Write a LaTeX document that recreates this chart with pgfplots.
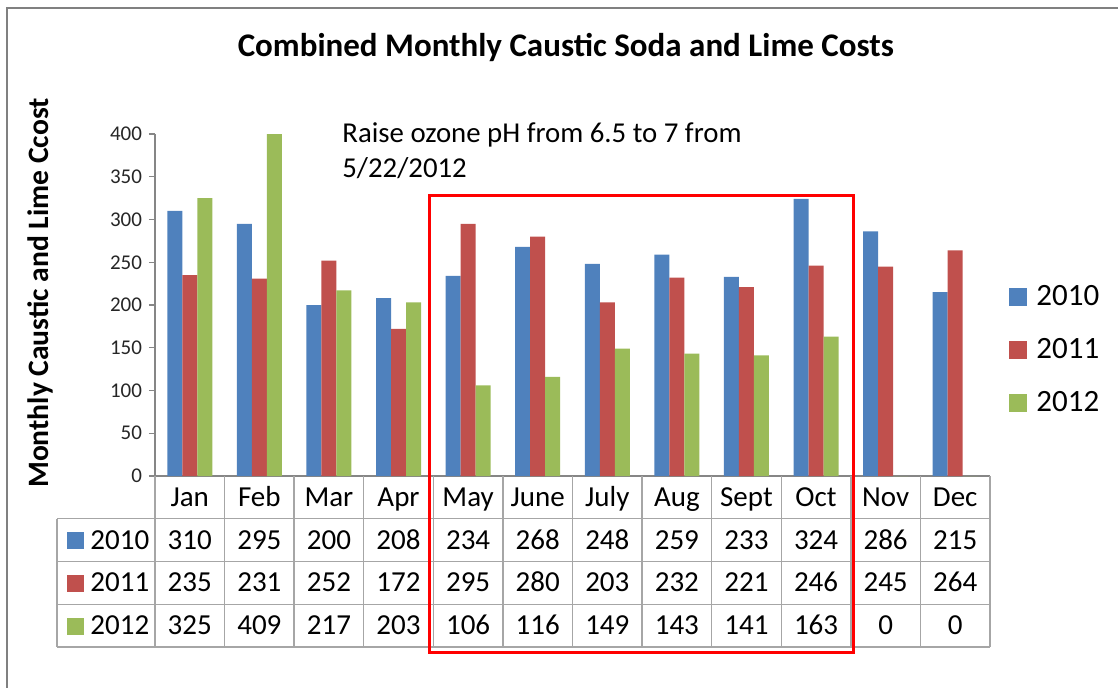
\documentclass[border=0pt]{standalone}
\usepackage{fontspec}
\setmainfont{Carlito}
\usepackage{pgfplots}
\usepackage{pgfplotstable}
\pgfplotsset{compat=1.18}

\definecolor{c10}{RGB}{79,129,189}
\definecolor{c11}{RGB}{192,80,77}
\definecolor{c12}{RGB}{155,187,89}
\definecolor{gridgrey}{RGB}{166,166,166}
\definecolor{axgrey}{RGB}{134,134,134}

% monthly costs, one column per year
\pgfplotstableread{
idx month y2010 y2011 y2012
0  Jan   310 235 325
1  Feb   295 231 409
2  Mar   200 252 217
3  Apr   208 172 203
4  May   234 295 106
5  June  268 280 116
6  July  248 203 149
7  Aug   259 232 143
8  Sept  233 221 141
9  Oct   324 246 163
10 Nov   286 245 0
11 Dec   215 264 0
}\costs

\newcommand{\tabfont}{\fontsize{14.5}{17}\selectfont}
\pgfplotsset{tabrow/.style={forget plot, draw=none, mark=none,
    point meta=explicit symbolic, nodes near coords,
    nodes near coords align={anchor=base},
    every node near coord/.append style={font=\tabfont, text=black,
                                         inner sep=0pt, anchor=base}}}

\begin{document}
\begin{tikzpicture}
% 1px of the reference = 0.5pt
\useasboundingbox (-77.5pt,-105.5pt) rectangle (481.5pt,238pt);
\draw[gray, line width=1.2pt] (-74pt,-130pt) -- (-74pt,234pt) -- (520pt,234pt);

\begin{axis}[
    at={(0,0)}, anchor=south west,
    width=417.5pt, height=171pt, scale only axis,
    xmin=-0.5, xmax=11.5, ymin=0, ymax=400,
    clip=false,
    axis x line=bottom, axis y line=left,
    axis line style={draw=axgrey, line width=0.6pt, -},
    xtick=\empty,
    ytick={0,50,...,400},
    tick align=outside, major tick length=3pt,
    ytick style={draw=axgrey, line width=0.6pt},
    yticklabel style={font=\fontsize{10.5}{12}\selectfont, text=black!85},
    /pgf/number format/assume math mode=true,
    title={Combined Monthly Caustic Soda and Lime Costs},
    title style={at={(0.492,1.219)}, anchor=center,
                 font=\bfseries\fontsize{16.5}{19}\selectfont},
    ylabel={Monthly Caustic and Lime Ccost},
    ylabel style={at={(-0.1377,0.535)}, anchor=center,
                  font=\bfseries\fontsize{14.8}{17}\selectfont},
    legend image code/.code={\draw[#1, draw=none] (0pt,-4.5pt) rectangle (9pt,4.5pt);},
    legend style={at={(1.0228,0.368)}, anchor=west, draw=none, fill=none,
                  font=\fontsize{15.5}{18}\selectfont, row sep=15pt,
                  inner sep=0pt, nodes={inner sep=0pt}, column sep=4.5pt},
    legend cell align=left,
]
% bars
\addplot[ybar, bar width=7.5pt, bar shift=-7.5pt, fill=c10, draw=none,
         restrict y to domain*=0:400] table[x=idx, y=y2010] {\costs};
\addlegendentry{2010}
\addplot[ybar, bar width=7.5pt, bar shift=0pt, fill=c11, draw=none,
         restrict y to domain*=0:400] table[x=idx, y=y2011] {\costs};
\addlegendentry{2011}
\addplot[ybar, bar width=7.5pt, bar shift=7.5pt, fill=c12, draw=none,
         restrict y to domain*=0:400] table[x=idx, y=y2012] {\costs};
\addlegendentry{2012}

% data table under the chart
\pgfplotsinvokeforeach{-0.5,0.5,1.5,2.5,3.5,4.5,5.5,6.5,7.5,8.5,9.5,10.5,11.5}{
  \draw[gridgrey, line width=0.7pt] (axis cs:#1,0) -- (axis cs:#1,-200);
}
\pgfplotsinvokeforeach{-50,-100,-150,-200}{
  \draw[gridgrey, line width=0.7pt] (axis cs:-1.908,#1) -- (axis cs:11.5,#1);
}
\draw[gridgrey, line width=0.7pt] (axis cs:-1.908,-50) -- (axis cs:-1.908,-200);

\addplot[tabrow] table[x=idx, y expr=-35.5, meta=month] {\costs};
\addplot[tabrow] table[x=idx, y expr=-85.5, meta=y2010] {\costs};
\addplot[tabrow] table[x=idx, y expr=-135.5, meta=y2011] {\costs};
\addplot[tabrow] table[x=idx, y expr=-185.5, meta=y2012] {\costs};

\node[anchor=base west, inner sep=0pt, font=\tabfont] at (axis cs:-1.764,-85.5)
  {\textcolor{c10}{\rule{8.5pt}{8.5pt}}\hspace{3pt}2010};
\node[anchor=base west, inner sep=0pt, font=\tabfont] at (axis cs:-1.764,-135.5)
  {\textcolor{c11}{\rule{8.5pt}{8.5pt}}\hspace{3pt}2011};
\node[anchor=base west, inner sep=0pt, font=\tabfont] at (axis cs:-1.764,-185.5)
  {\textcolor{c12}{\rule{8.5pt}{8.5pt}}\hspace{3pt}2012};

% highlighted months and note
\draw[red, line width=1.5pt] (axis cs:3.452,-207) rectangle (axis cs:9.532,327.5);
\node[anchor=base west, inner sep=0pt, font=\fontsize{14.4}{17}\selectfont]
  at (axis cs:2.187,389.5) {Raise ozone pH from 6.5 to 7 from};
\node[anchor=base west, inner sep=0pt, font=\fontsize{14.4}{17}\selectfont]
  at (axis cs:2.187,349.7) {5/22/2012};
\end{axis}
\end{tikzpicture}
\end{document}
